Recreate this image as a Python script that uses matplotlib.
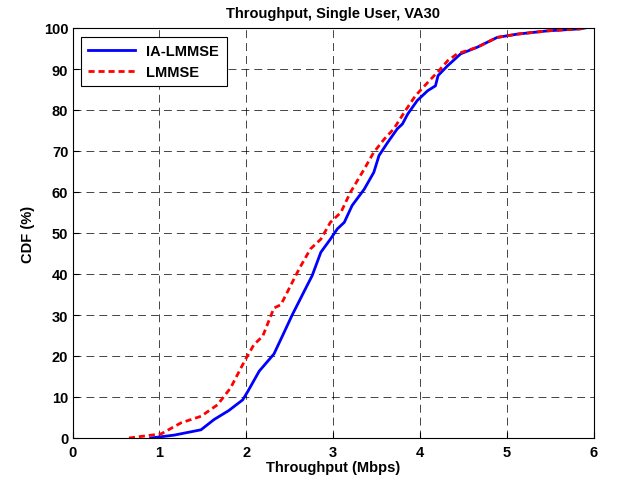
import matplotlib
matplotlib.use("Agg")
import matplotlib.pyplot as plt

# IA-LMMSE CDF (throughput Mbps, CDF %)
ia_x = [0.90, 1.17, 1.48, 1.63, 1.80, 1.96, 2.02, 2.15, 2.32, 2.42, 2.53, 2.69, 2.76,
        2.86, 2.97, 3.05, 3.13, 3.22, 3.36, 3.47, 3.53, 3.63, 3.74, 3.80, 3.86, 3.97,
        4.09, 4.18, 4.21, 4.32, 4.47, 4.66, 4.89, 5.12, 5.47, 5.85, 5.90]
ia_y = [0.0, 0.7, 2.0, 4.5, 6.7, 9.3, 11.4, 16.3, 20.5, 25.0, 30.0, 36.7, 39.6,
        45.3, 48.5, 51.0, 52.6, 56.7, 60.7, 64.8, 68.9, 72.1, 75.4, 76.6, 79.0, 82.3,
        84.7, 85.9, 88.4, 90.8, 93.7, 95.3, 97.7, 98.5, 99.3, 99.8, 100.0]

# LMMSE CDF
lm_x = [0.65, 1.02, 1.25, 1.48, 1.67, 1.82, 1.98, 2.09, 2.19, 2.32, 2.40, 2.57, 2.63,
        2.74, 2.86, 2.97, 3.09, 3.20, 3.36, 3.47, 3.59, 3.70, 3.82, 3.95, 4.09, 4.22,
        4.32, 4.43, 4.66, 4.89, 5.12, 5.47, 5.85, 5.90]
lm_y = [0.0, 1.0, 3.7, 5.3, 8.1, 12.2, 18.7, 22.8, 24.8, 31.7, 32.5, 39.6, 42.0,
        46.1, 48.5, 52.6, 55.0, 59.9, 65.6, 69.7, 72.9, 75.4, 79.4, 83.5, 86.7, 89.6,
        92.0, 93.7, 95.3, 97.7, 98.5, 99.3, 99.8, 100.0]

x_ticks = [0, 1, 2, 3, 4, 5, 6]
y_ticks = [0, 10, 20, 30, 40, 50, 60, 70, 80, 90, 100]

plt.rcParams['font.family'] = ['Liberation Sans', 'DejaVu Sans']
plt.rcParams['font.weight'] = 'bold'

fig = plt.figure(figsize=(6.18, 4.85), dpi=100)
ax = fig.add_axes([72.5 / 618, 46 / 485, 521 / 618, 410 / 485])

ax.plot(ia_x, ia_y, color='#0000ff', lw=2.0, label='IA-LMMSE')
ax.plot(lm_x, lm_y, color='#ff0000', lw=2.0, ls=(0, (2.2, 1.4)), label='LMMSE')

ax.set_xlim(0, 6)
ax.set_ylim(0, 100)
ax.set_xticks(x_ticks)
ax.set_yticks(y_ticks)
ax.tick_params(direction='in', length=4, width=0.8, labelsize=10.5)
ax.tick_params(axis='x', pad=5)
ax.tick_params(axis='y', pad=3)
for lab in ax.get_xticklabels() + ax.get_yticklabels():
    lab.set_fontweight('bold')
ax.grid(True, color='black', ls=(0, (9.5, 6)), lw=0.6, alpha=0.85)
for s in ax.spines.values():
    s.set_linewidth(0.8)

ax.set_title('Throughput, Single User, VA30', fontsize=10.5, fontweight='bold', pad=8)
ax.set_xlabel('Throughput (Mbps)', fontsize=10.5, fontweight='bold', labelpad=1)
ax.set_ylabel('CDF (%)', fontsize=10.5, fontweight='bold', labelpad=6)

leg = ax.legend(loc='upper left', fontsize=10.5, frameon=True, fancybox=False,
                edgecolor='black', borderpad=0.5, handlelength=3.2,
                borderaxespad=0, bbox_to_anchor=(0.016, 0.979), framealpha=1)
leg.get_frame().set_linewidth(0.8)
for t in leg.get_texts():
    t.set_fontweight('bold')

fig.savefig('out.png', dpi=100)
